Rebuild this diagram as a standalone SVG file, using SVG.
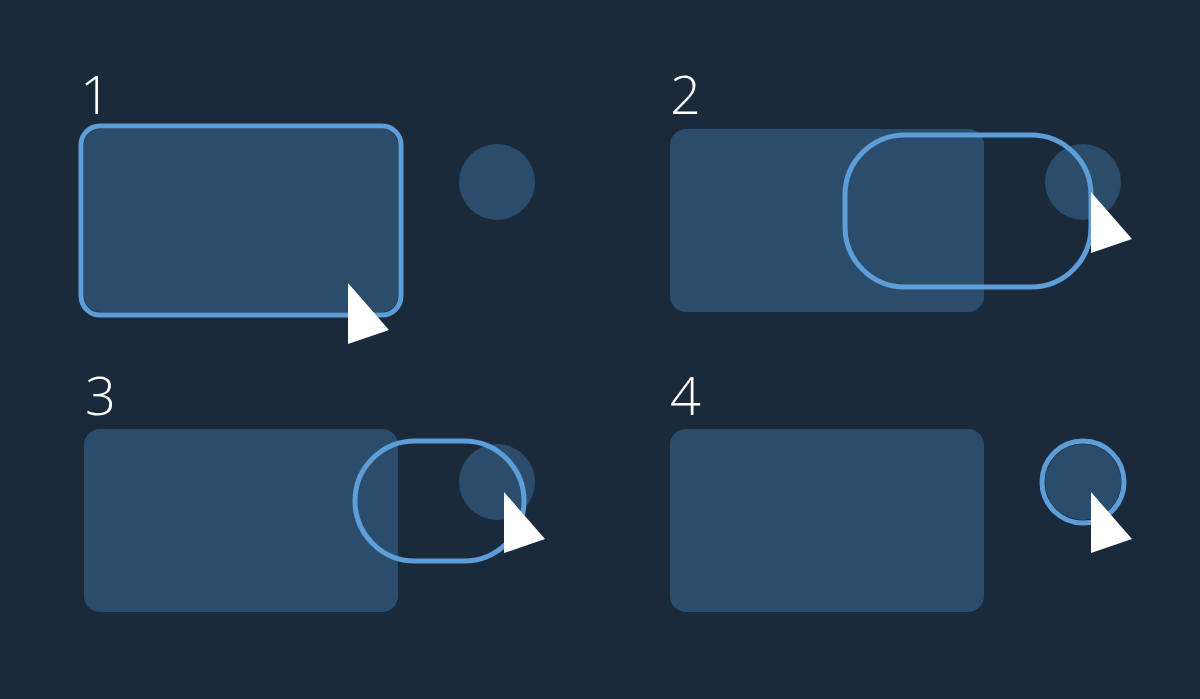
<svg xmlns="http://www.w3.org/2000/svg" width="1200" height="699" viewBox="0 0 1200 699">
<style>
.bg{fill:#1a2a3b}
.card{fill:#2b4d6b}
.dot{fill:#2b4d6b}
.ring{fill:none;stroke:#5d9dd8;stroke-width:5}
.cursor{fill:#ffffff}
.num{font-family:"Open Sans","Liberation Sans",Arial,sans-serif;font-weight:300;font-size:54px;fill:#ffffff}
</style>
<defs>
<polygon id="cur" points="0,0 41,47 0,61"/>
</defs>
<rect class="bg" x="0" y="0" width="1200" height="699"/>
<g id="panel1">
<text class="num" x="80" y="114">1</text>
<rect class="card" x="84" y="129" width="314" height="183" rx="16"/>
<circle class="dot" cx="497" cy="182" r="38"/>
<rect class="ring" x="81" y="126" width="320" height="189" rx="19"/>
<use class="cursor" href="#cur" x="348" y="283"/>
</g>
<g id="panel2">
<text class="num" x="670" y="114">2</text>
<rect class="card" x="670" y="129" width="314" height="183" rx="16"/>
<circle class="dot" cx="1083" cy="182" r="38"/>
<rect class="ring" x="845" y="135" width="246" height="152" rx="60"/>
<use class="cursor" href="#cur" x="1091" y="192"/>
</g>
<g id="panel3">
<text class="num" x="85" y="415">3</text>
<rect class="card" x="84" y="429" width="314" height="183" rx="16"/>
<circle class="dot" cx="497" cy="482" r="38"/>
<rect class="ring" x="355" y="441" width="169" height="120" rx="60"/>
<use class="cursor" href="#cur" x="504" y="492"/>
</g>
<g id="panel4">
<text class="num" x="670" y="415">4</text>
<rect class="card" x="670" y="429" width="314" height="183" rx="16"/>
<circle class="dot" cx="1083" cy="482" r="38"/>
<circle class="ring" cx="1083" cy="482" r="41"/>
<use class="cursor" href="#cur" x="1091" y="492"/>
</g>
<g id="connectors"></g>
</svg>
